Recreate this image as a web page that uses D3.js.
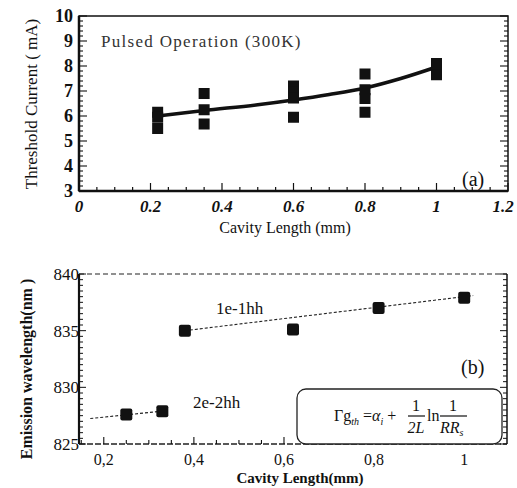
<!DOCTYPE html>
<html>
<head>
<meta charset="utf-8">
<script src="https://cdn.jsdelivr.net/npm/d3@7"></script>
<style>
  body { margin: 0; background: #fff; }
  text { font-family: "Liberation Serif", "Times New Roman", Times, serif; fill: #111; }
</style>
</head>
<body>
<div id="chart"></div>
<script>
// (a) threshold current vs cavity length
var lengthsA  = [0.22, 0.22, 0.22, 0.35, 0.35, 0.35, 0.6, 0.6, 0.6, 0.6, 0.8, 0.8, 0.8, 0.8, 1.0, 1.0, 1.0];
var currentsA = [6.15, 5.95, 5.5, 6.9, 6.25, 5.68, 7.2, 6.95, 6.72, 5.95, 7.68, 7.05, 6.7, 6.15, 8.1, 7.9, 7.65];
var fitLengthA  = [0.22, 0.35, 0.5, 0.6, 0.7, 0.8, 0.9, 1.0];
var fitCurrentA = [6.0, 6.22, 6.45, 6.64, 6.86, 7.12, 7.5, 7.96];
var xTicksA = [0, 0.2, 0.4, 0.6, 0.8, 1, 1.2];
var yTicksA = [3, 4, 5, 6, 7, 8, 9, 10];

// (b) emission wavelength vs cavity length
var lengthsB = [0.25, 0.33, 0.38, 0.62, 0.81, 1.0];
var waveB    = [827.6, 827.9, 835.0, 835.1, 837.0, 837.9];
var line2eX = [0.17, 0.33];
var line2eY = [827.25, 827.9];
var line1eX = [0.38, 1.02];
var line1eY = [835.0, 838.1];
var xTicksB = [0.2, 0.4, 0.6, 0.8, 1];
var yTicksB = [825, 830, 835, 840];

var svg = d3.select("#chart").append("svg")
    .attr("width", 517)
    .attr("height", 488);

// ---------- panel (a) ----------
var xa = d3.scaleLinear().domain([0, 1.2]).range([79, 508]);
var ya = d3.scaleLinear().domain([3, 10]).range([191, 16]);

var ga = svg.append("g");

// frame
ga.append("rect")
    .attr("x", xa(0)).attr("y", ya(10))
    .attr("width", xa(1.2) - xa(0)).attr("height", ya(3) - ya(10))
    .attr("fill", "none").attr("stroke", "#111").attr("stroke-width", 1.5);
ga.append("line")
    .attr("x1", xa(0)).attr("x2", xa(0)).attr("y1", ya(10)).attr("y2", ya(3))
    .attr("stroke", "#111").attr("stroke-width", 2.5);
ga.append("line")
    .attr("x1", xa(0)).attr("x2", xa(1.2)).attr("y1", ya(3)).attr("y2", ya(3))
    .attr("stroke", "#111").attr("stroke-width", 2.5);

// inward ticks
d3.range(0, 1.2001, 0.05).forEach(function(v) {
    var major = Math.abs(v / 0.2 - Math.round(v / 0.2)) < 1e-6;
    ga.append("line")
        .attr("x1", xa(v)).attr("x2", xa(v))
        .attr("y1", ya(3)).attr("y2", ya(3) - (major ? 8 : 4))
        .attr("stroke", "#111").attr("stroke-width", 1.2);
});
d3.range(3, 10.001, 0.2).forEach(function(v) {
    var major = Math.abs(v - Math.round(v)) < 1e-6;
    var len = major ? 8 : 4;
    ga.append("line")
        .attr("x1", xa(0)).attr("x2", xa(0) + len)
        .attr("y1", ya(v)).attr("y2", ya(v))
        .attr("stroke", "#111").attr("stroke-width", 1.1);
    ga.append("line")
        .attr("x1", xa(1.2)).attr("x2", xa(1.2) - len)
        .attr("y1", ya(v)).attr("y2", ya(v))
        .attr("stroke", "#111").attr("stroke-width", 1.1);
});

// tick labels
ga.selectAll(".xla").data(xTicksA).enter().append("text")
    .attr("x", d => Math.min(xa(d), 503)).attr("y", 212)
    .attr("text-anchor", "middle")
    .style("font-size", "17px").style("font-weight", "bold").style("font-style", "italic")
    .text(d => d);
ga.selectAll(".yla").data(yTicksA).enter().append("text")
    .attr("x", 73).attr("y", d => ya(d) + 6)
    .attr("text-anchor", "end")
    .style("font-size", "18px").style("font-weight", "bold")
    .text(d => d);

ga.append("text")
    .attr("x", 285).attr("y", 233)
    .attr("text-anchor", "middle")
    .style("font-size", "16px")
    .text("Cavity Length (mm)");
ga.append("text")
    .attr("transform", "translate(37,104) rotate(-90)")
    .attr("text-anchor", "middle")
    .style("font-size", "17px")
    .text("Threshold Current ( mA)");
ga.append("text")
    .attr("x", 101).attr("y", 47)
    .style("font-size", "17px").style("letter-spacing", "1.3px").style("fill", "#333")
    .text("Pulsed Operation (300K)");
ga.append("text")
    .attr("x", 462).attr("y", 186)
    .style("font-size", "20px")
    .text("(a)");

// fit line
var fitA = fitLengthA.map((d, i) => [d, fitCurrentA[i]]);
ga.append("path")
    .datum(fitA)
    .attr("d", d3.line().x(d => xa(d[0])).y(d => ya(d[1])).curve(d3.curveMonotoneX))
    .attr("fill", "none").attr("stroke", "#111").attr("stroke-width", 3.5);

// squares
var sqA = 11;
ga.selectAll(".pa").data(lengthsA.map((d, i) => [d, currentsA[i]])).enter().append("rect")
    .attr("x", d => xa(d[0]) - sqA / 2).attr("y", d => ya(d[1]) - sqA / 2)
    .attr("width", sqA).attr("height", sqA)
    .attr("fill", "#111");

// ---------- panel (b) ----------
var xb = d3.scaleLinear().domain([0.145, 1.095]).range([79, 507]);
var yb = d3.scaleLinear().domain([825, 840]).range([444, 274]);

var gb = svg.append("g");

gb.append("line")
    .attr("x1", xb.range()[0]).attr("x2", xb.range()[1]).attr("y1", yb(840)).attr("y2", yb(840))
    .attr("stroke", "#222").attr("stroke-width", 1.2).attr("stroke-dasharray", "5,3");
gb.append("line")
    .attr("x1", xb.range()[0]).attr("x2", xb.range()[1]).attr("y1", yb(825)).attr("y2", yb(825))
    .attr("stroke", "#222").attr("stroke-width", 1.3).attr("stroke-dasharray", "6,2");
gb.append("line")
    .attr("x1", xb.range()[0]).attr("x2", xb.range()[0]).attr("y1", yb(840)).attr("y2", yb(825))
    .attr("stroke", "#111").attr("stroke-width", 2.2);
gb.append("line")
    .attr("x1", xb.range()[1]).attr("x2", xb.range()[1]).attr("y1", yb(840)).attr("y2", yb(825))
    .attr("stroke", "#111").attr("stroke-width", 1.5);

d3.range(0.15, 1.0501, 0.05).forEach(function(v) {
    var major = Math.abs(v / 0.2 - Math.round(v / 0.2)) < 1e-6;
    gb.append("line")
        .attr("x1", xb(v)).attr("x2", xb(v))
        .attr("y1", yb(825)).attr("y2", yb(825) - (major ? 7 : 4))
        .attr("stroke", "#111").attr("stroke-width", 1.1);
});
d3.range(825, 840.001, 0.5).forEach(function(v) {
    var major = Math.abs(v / 5 - Math.round(v / 5)) < 1e-6;
    var len = major ? 7 : 4;
    gb.append("line")
        .attr("x1", xb.range()[0]).attr("x2", xb.range()[0] + len)
        .attr("y1", yb(v)).attr("y2", yb(v))
        .attr("stroke", "#111").attr("stroke-width", 1);
    gb.append("line")
        .attr("x1", xb.range()[1]).attr("x2", xb.range()[1] - len)
        .attr("y1", yb(v)).attr("y2", yb(v))
        .attr("stroke", "#111").attr("stroke-width", 1);
});

gb.selectAll(".xlb").data(xTicksB).enter().append("text")
    .attr("x", d => xb(d)).attr("y", 465)
    .attr("text-anchor", "middle")
    .style("font-size", "16px")
    .text(d => d === 1 ? "1" : String(d).replace(".", ","));
gb.selectAll(".ylb").data(yTicksB).enter().append("text")
    .attr("x", 79).attr("y", d => yb(d) + 6)
    .attr("text-anchor", "end")
    .style("font-size", "17px")
    .text(d => d);

gb.append("text")
    .attr("x", 300).attr("y", 483)
    .attr("text-anchor", "middle")
    .style("font-size", "15px").style("font-weight", "bold")
    .text("Cavity Length(mm)");
gb.append("text")
    .attr("transform", "translate(32,369) rotate(-90)")
    .attr("text-anchor", "middle")
    .style("font-size", "16px").style("font-weight", "bold")
    .text("Emission wavelength(nm )");

gb.append("text").attr("x", 216).attr("y", 314).style("font-size", "17px").text("1e-1hh");
gb.append("text").attr("x", 193).attr("y", 408).style("font-size", "17px").text("2e-2hh");
gb.append("text").attr("x", 461).attr("y", 374).style("font-size", "20px").text("(b)");

// dotted fit lines
[[line2eX, line2eY], [line1eX, line1eY]].forEach(function(l) {
    gb.append("path")
        .datum(l[0].map((d, i) => [d, l[1][i]]))
        .attr("d", d3.line().x(d => xb(d[0])).y(d => yb(d[1])))
        .attr("fill", "none").attr("stroke", "#222").attr("stroke-width", 1.1)
        .attr("stroke-dasharray", "3,2");
});

var sqB = 12;
gb.selectAll(".pb").data(lengthsB.map((d, i) => [d, waveB[i]])).enter().append("rect")
    .attr("x", d => xb(d[0]) - sqB / 2).attr("y", d => yb(d[1]) - sqB / 2)
    .attr("width", sqB).attr("height", sqB).attr("rx", 2)
    .attr("fill", "#111");

// formula box
gb.append("rect")
    .attr("x", 297).attr("y", 389).attr("width", 205).attr("height", 55).attr("rx", 9)
    .attr("fill", "#fff").attr("stroke", "#222").attr("stroke-width", 1.3);

var f = gb.append("g").style("font-size", "16px");
var t1 = f.append("text").attr("x", 334).attr("y", 421);
t1.append("tspan").text("Γg");
t1.append("tspan").attr("dy", 4).style("font-size", "10px").style("font-style", "italic").text("th");
t1.append("tspan").attr("dy", -4).text(" =");
t1.append("tspan").style("font-style", "italic").text("α");
t1.append("tspan").attr("dy", 4).style("font-size", "10px").style("font-style", "italic").text("i");
t1.append("tspan").attr("dy", -4).text(" +");
// fraction 1 / 2L
f.append("text").attr("x", 416).attr("y", 411).attr("text-anchor", "middle").text("1");
f.append("line").attr("x1", 408).attr("x2", 425).attr("y1", 416).attr("y2", 416)
    .attr("stroke", "#111").attr("stroke-width", 1.2);
f.append("text").attr("x", 416).attr("y", 433).attr("text-anchor", "middle")
    .style("font-style", "italic").text("2L");
f.append("text").attr("x", 427).attr("y", 421).text("ln");
// fraction 1 / RRs
f.append("text").attr("x", 453).attr("y", 411).attr("text-anchor", "middle").text("1");
f.append("line").attr("x1", 440).attr("x2", 467).attr("y1", 416).attr("y2", 416)
    .attr("stroke", "#111").attr("stroke-width", 1.2);
var t2 = f.append("text").attr("x", 440).attr("y", 433).style("font-style", "italic");
t2.append("tspan").text("RR");
t2.append("tspan").attr("dy", 3).style("font-size", "10px").text("s");
</script>
</body>
</html>
